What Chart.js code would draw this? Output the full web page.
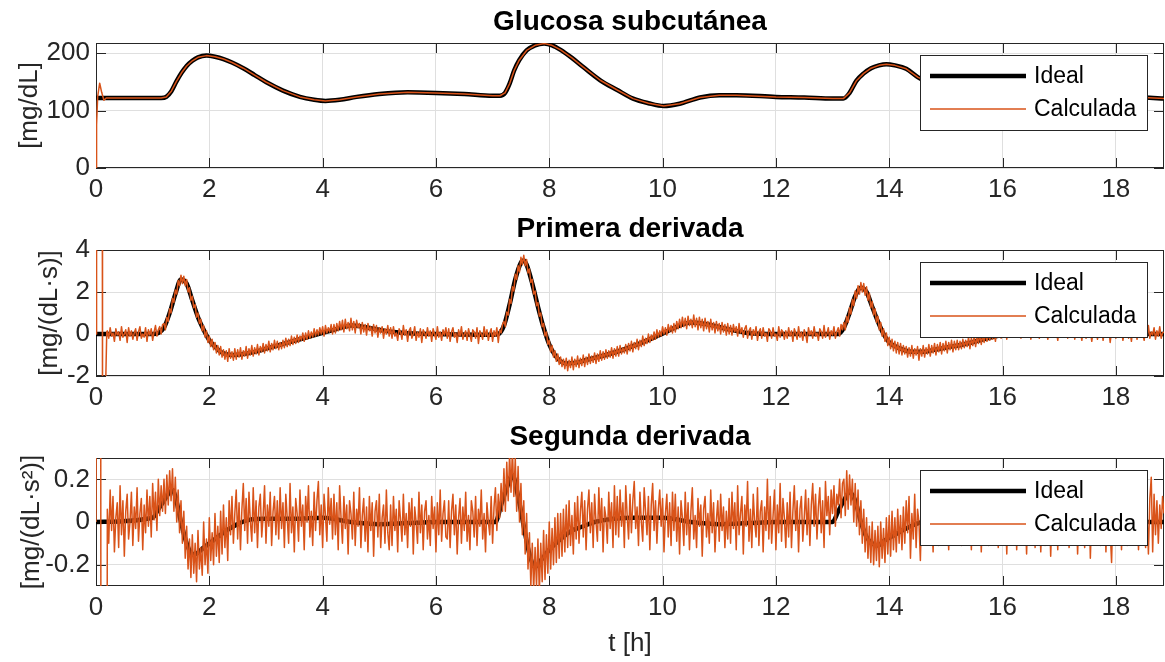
<!DOCTYPE html>
<html>
<head>
<meta charset="utf-8">
<title>Glucosa subcutánea y derivadas</title>
<script src="https://cdn.jsdelivr.net/npm/chart.js@4.4.0/dist/chart.umd.min.js"></script>
<style>
  body { margin: 0; background: #fff; }
  #wrap { position: relative; width: 1165px; height: 662px; overflow: hidden; }
  canvas { position: absolute; left: 0; }
</style>
</head>
<body>
<div id="wrap">
  <canvas id="c1" width="1165" height="210" style="top:0"></canvas>
  <canvas id="c2" width="1165" height="210" style="top:210px"></canvas>
  <canvas id="c3" width="1165" height="242" style="top:420px"></canvas>
</div>
<script>
/* Glucosa subcutánea: ideal vs calculada, con primera y segunda derivada */

// ---- data ----

// axes
const xMax = 18.85;
const xTicks = [0, 2, 4, 6, 8, 10, 12, 14, 16, 18];
const glucTicks = [0, 100, 200];
const d1Ticks = [-2, 0, 2, 4];
const d2Ticks = [-0.2, 0, 0.2];

// glucose, ideal curve (knots)
const glucT = [0, 0.5, 1.0, 1.15, 1.24, 1.33, 1.42, 1.51, 1.6, 1.7,
  1.8, 1.95, 2.1, 2.25, 2.4, 2.6, 2.8, 3.0, 3.3, 3.6,
  3.85, 4.05, 4.3, 4.6, 5.0, 5.5, 6.0, 6.5, 7.0, 7.13,
  7.22, 7.3, 7.38, 7.47, 7.6, 7.75, 7.91, 8.05, 8.2, 8.4,
  8.6, 8.9, 9.2, 9.48, 9.75, 10.02, 10.3, 10.66, 11.0, 11.3,
  12.0, 12.5, 13.0, 13.19, 13.3, 13.42, 13.55, 13.68, 13.82, 13.95,
  14.1, 14.3, 14.51, 14.8, 15.1, 15.4, 15.7, 16.0, 16.5, 17.0,
  17.5, 18.0, 18.5, 18.85];
const glucIdeal = [122, 122, 122, 122, 124, 134, 151, 166, 178, 187,
  193, 196, 194, 190, 184, 174, 162, 150, 135, 124,
  119, 117, 119, 124, 129, 132, 131, 129, 126, 126,
  131, 147, 170, 188, 205, 214, 217, 214, 206, 192,
  176, 153, 136, 121, 113, 108, 112, 123, 127, 127,
  124, 123, 121, 121, 131, 152, 165, 174, 179, 181,
  179, 173, 158, 145, 134, 126, 121, 118, 118, 120,
  122, 123, 123, 121];
// glucose, calculated: start-up transient, then it follows the ideal curve
const glucStartT = [0, 0.01, 0.03, 0.065, 0.1, 0.14, 0.18];
const glucStartV = [0, 75, 125, 148, 132, 118, 122];

// first derivative, ideal (knots)
const d1T = [0, 1.0, 1.1, 1.2, 1.3, 1.4, 1.5, 1.6, 1.7, 1.8, 1.9, 2.0, 2.1, 2.2, 2.4, 2.6, 2.8,
  3.0, 3.2, 3.4, 3.6, 3.8, 4.0, 4.2, 4.4, 4.5, 4.7, 4.9, 5.1, 5.3, 5.6, 6.0, 7.0, 7.1,
  7.2, 7.3, 7.4, 7.5, 7.55, 7.6, 7.7, 7.8, 7.9, 8.0, 8.1, 8.2, 8.3, 8.5, 8.7, 9.0, 9.3,
  9.6, 9.9, 10.1, 10.3, 10.5, 10.7, 10.9, 11.2, 11.5, 12.0, 13.1,
  13.2, 13.3, 13.4, 13.5, 13.6, 13.7, 13.8, 13.9, 14.0, 14.2, 14.4, 14.6, 14.8, 15.0, 15.3,
  15.6, 15.9, 16.2, 16.5, 17.0, 17.5, 18.0, 18.85];
const d1Ideal = [0, 0, 0.05, 0.3, 1.0, 1.9, 2.6, 2.4, 1.6, 0.8, 0.2, -0.3, -0.6, -0.85, -1.0, -0.95, -0.85,
  -0.7, -0.55, -0.4, -0.25, -0.1, 0.05, 0.2, 0.35, 0.4, 0.35, 0.25, 0.15, 0.08, 0.02, 0, -0.03, 0,
  0.4, 1.4, 2.6, 3.4, 3.5, 3.3, 2.4, 1.3, 0.3, -0.5, -1.0, -1.3, -1.4, -1.35, -1.2, -1.0, -0.75,
  -0.45, -0.1, 0.15, 0.4, 0.55, 0.5, 0.4, 0.2, 0.05, 0, 0,
  0.3, 1.0, 1.8, 2.2, 2.0, 1.3, 0.6, 0.0, -0.4, -0.7, -0.85, -0.85, -0.75, -0.65, -0.5,
  -0.3, -0.1, 0.05, 0.1, 0.1, 0.05, 0, 0];

// second derivative, ideal (knots)
const d2T = [0, 1.0, 1.1, 1.2, 1.3, 1.35, 1.4, 1.5, 1.6, 1.7, 1.75, 1.9, 2.1, 2.3, 2.5, 2.7,
  3.0, 3.5, 4.0, 4.5, 5.0, 5.5, 6.0,
  7.05, 7.15, 7.25, 7.35, 7.45, 7.55, 7.65, 7.75, 7.85, 8.0, 8.2, 8.4, 8.6, 8.8,
  9.5, 10.0, 10.5, 11.0, 11.5, 12.0,
  13.0, 13.1, 13.2, 13.3, 13.4, 13.5, 13.6, 13.7, 13.8, 13.9, 14.1, 14.3, 14.6, 15.5, 16.5, 18.85];
const d2Ideal = [0, 0.02, 0.06, 0.1, 0.14, 0.15, 0.12, 0.0, -0.1, -0.15, -0.15, -0.12, -0.08, -0.04, -0.01, 0.01,
  0.015, 0.015, 0.02, 0.0, -0.01, -0.005, 0,
  0, 0.08, 0.16, 0.22, 0.12, -0.02, -0.15, -0.21, -0.18, -0.13, -0.08, -0.04, -0.02, 0,
  0.02, 0.02, 0, -0.01, -0.005, 0,
  0, 0.05, 0.1, 0.14, 0.1, 0.0, -0.07, -0.1, -0.11, -0.09, -0.06, -0.03, 0, 0.01, 0, 0];

// calculated derivatives: start-up transient (runs off scale)
const d1StartT = [0, 0.01, 0.11, 0.115, 0.14, 0.17, 0.19];
const d1StartV = [0, 12, 12, -6, -2.3, -2.5, 0.1];
const d2StartT = [0, 0.02, 0.08, 0.09, 0.19];
const d2StartV = [0, 2, 2, -2, -2];

// calculated derivatives: one sample every 0.025 h from t = 0.2 h (40 per hour)
const calcT0 = 0.2, calcDt = 0.025;
const d1Calc = [
  // 0.2 - 1.175
  0.15, -0.2, 0.3, -0.1, 0.05, -0.35, 0.25, -0.05, 0.1, -0.3,
  0.35, -0.15, 0.0, 0.2, -0.4, 0.3, -0.1, 0.15, -0.25, 0.05,
  0.25, -0.3, 0.1, 0.35, -0.2, 0.0, -0.15, 0.3, -0.35, 0.2,
  -0.05, 0.25, -0.3, 0.1, 0.4, -0.1, 0.2, 0.35, 0.0, 0.45,
  // 1.2 - 2.175
  0.5, 0.2, 0.8, 0.6, 1.2, 1.0, 1.7, 1.5, 2.1, 1.9,
  2.55, 2.3, 2.8, 2.4, 2.75, 2.3, 2.6, 2.0, 2.2, 1.6,
  1.8, 1.25, 1.4, 0.8, 1.0, 0.5, 0.7, 0.15, 0.4, -0.15,
  0.15, -0.4, -0.1, -0.6, -0.25, -0.75, -0.4, -0.9, -0.55, -1.0,
  // 2.2 - 3.175
  -0.6, -1.1, -0.75, -1.2, -0.8, -1.3, -0.7, -1.15, -0.85, -1.25,
  -0.7, -1.2, -0.75, -1.1, -0.65, -1.2, -0.8, -1.05, -0.6, -1.15,
  -0.7, -1.0, -0.55, -1.05, -0.65, -0.95, -0.5, -1.0, -0.6, -0.85,
  -0.45, -0.9, -0.5, -0.8, -0.35, -0.85, -0.45, -0.75, -0.3, -0.7,
  // 3.2 - 4.175
  -0.35, -0.75, -0.4, -0.7, -0.3, -0.65, -0.2, -0.6, -0.25, -0.55,
  -0.1, -0.5, -0.15, -0.45, -0.05, -0.4, -0.1, -0.3, 0.05, -0.35,
  0.05, -0.25, 0.15, -0.2, 0.1, -0.15, 0.25, -0.1, 0.2, -0.05,
  0.3, 0.0, 0.35, -0.1, 0.4, 0.05, 0.3, 0.1, 0.45, 0.0,
  // 4.2 - 5.175
  0.45, 0.05, 0.5, 0.15, 0.6, 0.2, 0.65, 0.1, 0.7, 0.25,
  0.55, 0.15, 0.75, 0.2, 0.6, 0.05, 0.65, 0.3, 0.5, 0.0,
  0.55, 0.1, 0.45, -0.05, 0.5, 0.15, 0.35, -0.1, 0.45, 0.05,
  0.4, -0.15, 0.3, 0.05, 0.35, -0.2, 0.25, 0.0, 0.4, -0.1,
  // 5.2 - 6.175
  0.3, -0.2, 0.35, -0.1, 0.05, -0.3, 0.25, 0.1, -0.25, 0.4,
  -0.05, 0.2, -0.35, 0.15, 0.3, -0.2, 0.0, 0.35, -0.3, 0.1,
  -0.15, 0.25, -0.4, 0.2, 0.05, -0.2, 0.3, -0.1, 0.15, -0.35,
  0.25, 0.0, -0.25, 0.35, -0.15, 0.1, -0.3, 0.2, -0.05, 0.3,
  // 6.2 - 7.175
  -0.2, 0.25, -0.35, 0.1, 0.3, -0.15, 0.05, -0.4, 0.2, -0.1,
  0.35, -0.25, 0.0, 0.15, -0.3, 0.25, -0.05, -0.35, 0.2, 0.1,
  -0.2, 0.3, -0.45, 0.15, 0.0, -0.25, 0.35, -0.1, 0.2, -0.3,
  0.05, 0.25, -0.35, 0.15, -0.1, 0.3, -0.4, 0.2, 0.05, 0.45,
  // 7.2 - 8.175
  0.6, 0.35, 1.05, 0.9, 1.65, 1.45, 2.25, 2.05, 2.85, 2.6,
  3.25, 2.95, 3.65, 3.3, 3.75, 3.25, 3.55, 2.9, 3.1, 2.45,
  2.6, 1.9, 2.05, 1.35, 1.5, 0.85, 1.0, 0.35, 0.5, -0.1,
  0.1, -0.5, -0.3, -0.85, -0.55, -1.1, -0.8, -1.3, -0.95, -1.45,
  // 8.2 - 9.175
  -1.1, -1.55, -1.2, -1.65, -1.15, -1.75, -1.25, -1.6, -1.1, -1.7,
  -1.2, -1.55, -1.05, -1.6, -1.15, -1.5, -1.0, -1.55, -1.1, -1.45,
  -0.95, -1.4, -1.05, -1.35, -0.9, -1.4, -0.95, -1.3, -0.8, -1.25,
  -0.85, -1.2, -0.75, -1.15, -0.8, -1.1, -0.65, -1.15, -0.7, -1.05,
  // 9.2 - 10.175
  -0.6, -1.05, -0.55, -0.95, -0.65, -0.9, -0.5, -0.95, -0.45, -0.8,
  -0.35, -0.85, -0.4, -0.7, -0.25, -0.75, -0.3, -0.6, -0.1, -0.55,
  -0.2, -0.45, 0.0, -0.4, -0.05, -0.3, 0.1, -0.25, 0.2, -0.15,
  0.15, -0.1, 0.35, 0.0, 0.3, -0.05, 0.45, 0.1, 0.4, 0.05,
  // 10.2 - 11.175
  0.5, 0.1, 0.6, 0.25, 0.7, 0.3, 0.8, 0.35, 0.75, 0.25,
  0.85, 0.4, 0.7, 0.3, 0.9, 0.35, 0.75, 0.2, 0.8, 0.3,
  0.7, 0.15, 0.75, 0.25, 0.6, 0.1, 0.7, 0.2, 0.55, 0.05,
  0.6, 0.15, 0.5, 0.0, 0.55, 0.1, 0.45, -0.05, 0.5, 0.0,
  // 11.2 - 12.175
  0.4, -0.05, 0.45, 0.1, 0.35, -0.1, 0.5, 0.05, 0.3, -0.15,
  0.25, 0.4, -0.2, 0.15, 0.3, -0.25, 0.2, -0.05, 0.35, -0.3,
  0.1, 0.25, -0.2, 0.3, -0.1, 0.05, -0.35, 0.25, 0.15, -0.2,
  0.3, -0.1, 0.0, -0.3, 0.35, -0.15, 0.2, 0.1, -0.25, 0.15,
  // 12.2 - 13.175
  -0.2, 0.3, -0.1, 0.15, -0.35, 0.25, 0.05, -0.25, 0.35, -0.15,
  0.1, -0.3, 0.2, 0.0, -0.4, 0.3, -0.05, 0.15, -0.2, 0.35,
  -0.1, 0.05, -0.3, 0.25, 0.1, -0.2, 0.4, -0.15, 0.0, 0.3,
  -0.25, 0.15, -0.05, 0.35, -0.2, 0.1, 0.3, -0.1, 0.45, 0.2,
  // 13.2 - 14.175
  0.55, 0.2, 0.85, 0.55, 1.25, 0.95, 1.65, 1.35, 2.05, 1.7,
  2.3, 1.9, 2.45, 2.0, 2.4, 1.85, 2.25, 1.6, 1.95, 1.25,
  1.55, 0.9, 1.2, 0.55, 0.85, 0.2, 0.55, -0.1, 0.25, -0.35,
  0.05, -0.55, -0.15, -0.7, -0.25, -0.8, -0.35, -0.9, -0.4, -0.95,
  // 14.2 - 15.175
  -0.45, -1.0, -0.55, -0.95, -0.6, -1.1, -0.65, -1.05, -0.55, -1.15,
  -0.7, -1.0, -0.6, -1.25, -0.7, -1.05, -0.55, -1.1, -0.65, -0.95,
  -0.5, -1.05, -0.55, -0.9, -0.45, -1.0, -0.5, -0.85, -0.4, -0.95,
  -0.45, -0.8, -0.35, -0.9, -0.4, -0.75, -0.3, -0.85, -0.35, -0.75,
  // 15.2 - 16.175
  -0.3, -0.75, -0.35, -0.7, -0.25, -0.65, -0.3, -0.6, -0.15, -0.7,
  -0.2, -0.55, -0.1, -0.6, -0.15, -0.45, 0.0, -0.5, -0.05, -0.4,
  0.1, -0.35, 0.05, -0.3, 0.15, -0.25, 0.1, -0.35, 0.2, -0.15,
  0.25, -0.2, 0.15, -0.1, 0.3, -0.25, 0.2, -0.05, 0.3, -0.15,
  // 16.2 - 17.175
  0.35, -0.15, 0.3, 0.05, 0.4, -0.2, 0.25, -0.05, 0.45, -0.1,
  0.2, 0.35, -0.25, 0.15, 0.3, -0.1, 0.4, 0.0, -0.2, 0.3,
  0.1, -0.15, 0.35, 0.05, -0.25, 0.25, 0.15, -0.1, 0.4, -0.05,
  0.2, -0.3, 0.3, 0.1, -0.15, 0.35, 0.0, 0.25, -0.2, 0.15,
  // 17.2 - 18.175
  0.3, -0.1, 0.25, -0.25, 0.15, 0.35, -0.15, 0.1, -0.3, 0.25,
  0.05, -0.2, 0.35, -0.1, 0.2, -0.35, 0.15, 0.0, 0.3, -0.25,
  0.1, -0.05, 0.25, -0.3, 0.2, 0.05, -0.15, 0.3, -0.4, 0.15,
  -0.1, 0.25, -0.2, 0.05, 0.35, -0.15, 0.2, -0.3, 0.1, 0.0,
  // 18.2 - 18.85
  0.25, -0.2, 0.15, -0.35, 0.3, -0.05, 0.1, -0.25, 0.35, -0.1,
  0.2, 0.0, -0.3, 0.25, -0.15, 0.4, -0.2, 0.1, -0.05, 0.3,
  -0.25, 0.15, -0.1, 0.35, -0.2, 0.05, 0.1
];
const d2Calc = [
  // 0.2 - 1.175
  0.06, -0.1, 0.15, -0.04, 0.12, -0.14, 0.02, 0.09, -0.12, 0.17,
  -0.06, 0.1, -0.16, 0.05, 0.13, -0.08, 0.0, 0.14, -0.11, 0.07,
  -0.03, 0.16, -0.09, 0.04, 0.11, -0.13, 0.08, -0.05, 0.15, -0.02,
  0.12, -0.07, 0.18, 0.01, 0.14, -0.04, 0.2, 0.03, 0.17, 0.05,
  // 1.2 - 2.175
  0.2, 0.04, 0.22, 0.08, 0.24, 0.1, 0.25, 0.05, 0.21, 0.0,
  0.15, -0.05, 0.1, -0.1, 0.05, -0.17, -0.02, -0.22, -0.08, -0.26,
  -0.06, -0.24, -0.1, -0.28, -0.04, -0.22, -0.12, -0.25, 0.0, -0.2,
  -0.08, -0.24, 0.02, -0.18, -0.05, -0.2, 0.04, -0.16, -0.02, -0.19,
  // 2.2 - 3.175
  0.05, -0.15, 0.08, -0.12, 0.02, -0.18, 0.1, -0.06, 0.12, -0.1,
  0.04, 0.15, -0.08, 0.09, -0.13, 0.06, 0.18, -0.04, 0.11, -0.1,
  0.14, 0.0, -0.09, 0.16, -0.05, 0.1, -0.12, 0.07, 0.13, -0.07,
  0.03, 0.17, -0.1, 0.08, -0.02, 0.14, -0.11, 0.05, 0.12, -0.06,
  // 3.2 - 4.175
  0.1, -0.08, 0.16, -0.03, 0.09, -0.12, 0.13, 0.02, -0.1, 0.18,
  -0.05, 0.07, -0.14, 0.11, 0.04, -0.09, 0.15, -0.02, 0.08, -0.13,
  0.12, 0.0, 0.17, -0.07, 0.05, -0.11, 0.14, -0.04, 0.1, 0.19,
  -0.06, 0.08, -0.12, 0.13, 0.03, -0.09, 0.16, -0.01, 0.11, -0.08,
  // 4.2 - 5.175
  0.13, -0.06, 0.09, -0.13, 0.17, 0.02, -0.1, 0.12, -0.03, 0.08,
  -0.15, 0.1, 0.04, -0.08, 0.14, -0.11, 0.06, -0.02, 0.16, -0.12,
  0.03, 0.11, -0.09, 0.07, -0.14, 0.12, -0.04, 0.09, -0.16, 0.05,
  0.1, -0.07, 0.13, -0.12, 0.02, 0.08, -0.1, 0.15, -0.05, -0.13,
  // 5.2 - 6.175
  0.08, -0.11, 0.12, -0.04, 0.06, -0.14, 0.1, 0.01, -0.09, 0.13,
  -0.06, 0.04, -0.12, 0.09, -0.02, 0.11, -0.15, 0.07, 0.0, -0.1,
  0.14, -0.05, 0.08, -0.13, 0.05, 0.1, -0.08, 0.03, -0.11, 0.12,
  -0.03, 0.07, -0.14, 0.09, -0.06, 0.15, -0.09, 0.04, 0.1, -0.07,
  // 6.2 - 7.175
  -0.08, 0.1, -0.12, 0.05, 0.13, -0.06, 0.08, -0.15, 0.02, 0.11,
  -0.1, 0.07, -0.04, 0.14, -0.09, 0.03, -0.13, 0.1, 0.05, -0.07,
  0.12, -0.11, 0.06, -0.02, 0.15, -0.08, 0.04, -0.14, 0.09, 0.0,
  -0.06, 0.12, -0.1, 0.07, 0.16, -0.04, 0.13, 0.02, 0.18, 0.05,
  // 7.2 - 8.175
  0.25, 0.05, 0.28, 0.1, 0.32, 0.14, 0.34, 0.12, 0.3, 0.05,
  0.26, 0.0, 0.18, -0.06, 0.1, -0.15, 0.04, -0.22, -0.05, -0.3,
  -0.1, -0.32, -0.12, -0.3, -0.08, -0.33, -0.1, -0.28, -0.04, -0.27,
  -0.06, -0.24, 0.0, -0.22, -0.03, -0.2, 0.02, -0.19, 0.04, -0.17,
  // 8.2 - 9.175
  0.04, -0.16, 0.06, -0.14, 0.08, -0.12, 0.1, -0.11, 0.03, -0.15,
  0.09, -0.08, 0.12, -0.1, 0.05, 0.14, -0.07, 0.1, -0.13, 0.06,
  0.15, -0.05, 0.09, -0.12, 0.13, 0.0, -0.09, 0.16, -0.04, 0.11,
  -0.14, 0.07, 0.02, -0.1, 0.14, -0.03, 0.09, -0.12, 0.17, -0.06,
  // 9.2 - 10.175
  0.12, -0.07, 0.15, -0.02, 0.09, -0.12, 0.17, 0.03, -0.08, 0.13,
  -0.05, 0.1, 0.19, -0.03, 0.07, -0.11, 0.14, 0.0, -0.09, 0.16,
  0.05, -0.06, 0.12, -0.13, 0.08, 0.18, -0.04, 0.1, -0.1, 0.06,
  0.15, -0.02, 0.11, -0.14, 0.04, 0.13, -0.07, 0.09, -0.11, 0.14,
  // 10.2 - 11.175
  -0.04, 0.13, -0.09, 0.07, -0.15, 0.1, 0.02, -0.11, 0.14, -0.06,
  0.09, -0.13, 0.05, 0.16, -0.08, 0.03, -0.12, 0.11, -0.02, 0.08,
  -0.16, 0.06, 0.12, -0.07, 0.04, -0.1, 0.15, -0.05, 0.09, -0.14,
  0.01, 0.1, -0.09, 0.13, -0.04, 0.07, -0.12, 0.05, -0.08, 0.11,
  // 11.2 - 12.175
  -0.1, 0.14, -0.03, 0.09, -0.13, 0.17, -0.06, 0.04, 0.12, -0.15,
  0.08, -0.02, 0.19, -0.09, 0.06, -0.12, 0.13, 0.0, -0.07, 0.16,
  -0.11, 0.05, 0.1, -0.14, 0.07, -0.04, 0.2, -0.08, 0.12, -0.1,
  0.03, 0.15, -0.13, 0.08, -0.05, 0.18, -0.09, 0.11, 0.02, -0.12,
  // 12.2 - 13.175
  0.09, -0.07, 0.14, -0.12, 0.05, 0.17, -0.04, 0.1, -0.14, 0.06,
  0.12, -0.09, 0.02, 0.15, -0.06, 0.11, -0.11, 0.08, 0.18, -0.02,
  0.13, -0.08, 0.07, 0.16, -0.05, 0.1, -0.12, 0.19, 0.03, 0.12,
  -0.06, 0.15, 0.04, 0.17, -0.02, 0.13, 0.08, 0.2, 0.02, 0.18,
  // 13.2 - 14.175
  0.2, 0.03, 0.24, 0.06, 0.22, 0.08, 0.2, 0.0, 0.18, -0.02,
  0.15, -0.06, 0.1, -0.1, 0.06, -0.14, 0.02, -0.17, -0.02, -0.19,
  0.0, -0.2, -0.04, -0.18, -0.02, -0.21, 0.0, -0.17, -0.03, -0.19,
  0.02, -0.15, 0.03, -0.16, 0.05, -0.13, 0.02, -0.14, 0.06, -0.1,
  // 14.2 - 15.175
  0.03, -0.13, 0.07, -0.1, 0.1, -0.05, 0.12, -0.17, 0.04, -0.08,
  0.13, -0.12, 0.06, 0.0, -0.18, 0.09, -0.04, 0.14, -0.1, 0.05,
  0.11, -0.07, 0.02, -0.14, 0.16, -0.03, 0.08, -0.11, 0.12, -0.06,
  0.04, 0.15, -0.09, 0.07, -0.13, 0.1, -0.02, 0.13, -0.1, 0.06,
  // 15.2 - 16.175
  0.12, -0.06, 0.15, -0.11, 0.03, 0.09, -0.08, 0.14, -0.03, 0.07,
  -0.13, 0.11, 0.0, -0.09, 0.16, -0.05, 0.1, -0.14, 0.06, 0.13,
  -0.07, 0.04, -0.11, 0.12, -0.02, 0.08, 0.17, -0.09, 0.05, -0.12,
  0.1, -0.04, 0.14, -0.1, 0.07, -0.15, 0.11, 0.01, -0.08, 0.13,
  // 16.2 - 17.175
  -0.09, 0.08, -0.13, 0.11, 0.02, -0.07, 0.14, -0.1, 0.05, -0.15,
  0.09, -0.02, 0.12, -0.08, 0.06, -0.12, 0.15, -0.04, 0.1, -0.14,
  0.03, 0.07, -0.11, 0.13, -0.06, 0.09, -0.16, 0.04, 0.11, -0.09,
  0.06, -0.13, 0.14, -0.03, 0.08, -0.1, 0.12, -0.07, 0.02, -0.12,
  // 17.2 - 18.175
  0.08, -0.1, 0.13, -0.05, 0.09, -0.15, 0.04, 0.11, -0.08, 0.06,
  -0.12, 0.1, -0.03, 0.14, -0.17, 0.05, -0.09, 0.12, -0.06, 0.08,
  0.15, -0.11, 0.03, -0.07, 0.1, -0.14, 0.07, 0.12, -0.04, -0.19,
  0.09, -0.06, 0.13, -0.1, 0.02, 0.11, -0.13, 0.06, -0.08, 0.1,
  // 18.2 - 18.85
  -0.11, 0.07, -0.04, 0.14, -0.09, 0.1, -0.02, 0.12, -0.13, 0.06,
  0.16, -0.07, 0.09, -0.12, 0.05, -0.15, 0.11, 0.21, -0.14, 0.13,
  -0.06, 0.1, -0.1, 0.08, -0.03, 0.12, 0.04
];

// ---- helpers ----
const FONT = "'Liberation Sans', Arial, Helvetica, sans-serif";
const AXIS_COLOR = '#262626';
const GRID_COLOR = '#dfdfdf';
const ORANGE = '#D95319';

function pts(ts, vs) {
  return ts.map((t, i) => ({ x: t, y: vs[i] }));
}
function sampled(vs) {
  return vs.map((v, i) => ({ x: +(calcT0 + i * calcDt).toFixed(3), y: v }));
}
function fixTicks(list) {
  return s => { s.ticks = list.map(v => ({ value: v })); };
}

// box, inward ticks, title and legend, MATLAB style
const axesDeco = {
  id: 'axesDeco',
  beforeDatasetsDraw(chart) {
    const { ctx, chartArea: a, scales } = chart;
    const tl = 10;
    ctx.save();
    ctx.strokeStyle = AXIS_COLOR;
    ctx.lineWidth = 1;
    ctx.beginPath();
    scales.x.ticks.forEach(t => {
      const px = Math.round(scales.x.getPixelForValue(t.value)) + 0.5;
      ctx.moveTo(px, a.bottom); ctx.lineTo(px, a.bottom - tl);
      ctx.moveTo(px, a.top); ctx.lineTo(px, a.top + tl);
    });
    scales.y.ticks.forEach(t => {
      const py = Math.round(scales.y.getPixelForValue(t.value)) + 0.5;
      ctx.moveTo(a.left, py); ctx.lineTo(a.left + tl, py);
      ctx.moveTo(a.right, py); ctx.lineTo(a.right - tl, py);
    });
    ctx.stroke();
    ctx.strokeRect(a.left + 0.5, a.top + 0.5, a.right - a.left - 1, a.bottom - a.top - 1);
    ctx.restore();
  },
  afterDraw(chart, args, opts) {
    const { ctx, chartArea: a } = chart;
    ctx.save();
    // title
    ctx.fillStyle = '#000';
    ctx.font = 'bold 28px ' + FONT;
    ctx.textAlign = 'center';
    ctx.textBaseline = 'alphabetic';
    ctx.fillText(opts.title, (a.left + a.right) / 2, a.top - 13);

    // legend
    const bw = 227, bh = 75;
    const bx = a.right - 17 - bw, by = a.top + 12;
    ctx.fillStyle = '#fff';
    ctx.fillRect(bx, by, bw, bh);
    ctx.strokeStyle = AXIS_COLOR;
    ctx.lineWidth = 1;
    ctx.strokeRect(bx + 0.5, by + 0.5, bw, bh);
    ctx.font = '23px ' + FONT;
    ctx.textAlign = 'left';
    ctx.textBaseline = 'middle';
    const rows = [21, 54];
    chart.data.datasets.forEach((ds, i) => {
      const y = by + rows[i];
      ctx.strokeStyle = ds.borderColor;
      ctx.lineWidth = ds.borderWidth;
      ctx.beginPath();
      ctx.moveTo(bx + 10, y);
      ctx.lineTo(bx + 106, y);
      ctx.stroke();
      ctx.fillStyle = '#000';
      ctx.fillText(ds.label, bx + 114, y + 1);
    });
    ctx.restore();
  }
};

function makeChart(id, cfg) {
  const tickFont = { family: FONT, size: 26 };
  const xScale = {
    type: 'linear',
    min: 0,
    max: xMax,
    border: { display: false },
    grid: { color: GRID_COLOR, drawTicks: false },
    ticks: { color: AXIS_COLOR, font: tickFont, padding: 6, maxRotation: 0, autoSkip: false },
    afterBuildTicks: fixTicks(xTicks),
    afterFit: s => { s.height = cfg.xHeight; }
  };
  if (cfg.xTitle) {
    xScale.title = { display: true, text: cfg.xTitle, color: AXIS_COLOR, font: tickFont, padding: { top: 0, bottom: 2.4 } };
  }
  return new Chart(document.getElementById(id), {
    type: 'line',
    data: {
      datasets: [
        {
          label: 'Ideal',
          data: cfg.ideal,
          borderColor: '#000',
          borderWidth: 4.5,
          pointRadius: 0,
          cubicInterpolationMode: 'monotone',
          order: 2
        },
        {
          label: 'Calculada',
          data: cfg.calc,
          borderColor: ORANGE,
          borderWidth: 1.5,
          borderJoinStyle: 'round',
          pointRadius: 0,
          tension: 0,
          clip: 0,
          order: 1
        }
      ]
    },
    options: {
      responsive: false,
      animation: false,
      devicePixelRatio: 1,
      events: [],
      parsing: false,
      layout: { padding: { top: cfg.top, right: 1, bottom: 0, left: 0 } },
      scales: {
        x: xScale,
        y: {
          min: cfg.yMin,
          max: cfg.yMax,
          border: { display: false },
          grid: { color: GRID_COLOR, drawTicks: false },
          ticks: { color: AXIS_COLOR, font: tickFont, padding: 6, autoSkip: false },
          afterBuildTicks: fixTicks(cfg.yTicks),
          title: { display: true, text: cfg.yTitle, color: AXIS_COLOR, font: tickFont, padding: { top: cfg.yTitlePad, bottom: 0 } },
          afterFit: s => { s.width = 96; }
        }
      },
      plugins: {
        legend: { display: false },
        tooltip: { enabled: false },
        axesDeco: { title: cfg.title }
      }
    },
    plugins: [axesDeco]
  });
}

function init() {
  const lastStart = glucStartT[glucStartT.length - 1];
  const glucCalc = pts(glucStartT, glucStartV)
    .concat(pts(glucT, glucIdeal).filter(p => p.x > lastStart));

  makeChart('c1', {
    title: 'Glucosa subcutánea',
    ideal: pts(glucT, glucIdeal),
    calc: glucCalc,
    yMin: 0, yMax: 218, yTicks: glucTicks,
    yTitle: '[mg/dL]', yTitlePad: 14.4,
    top: 43, xHeight: 42
  });

  makeChart('c2', {
    title: 'Primera derivada',
    ideal: pts(d1T, d1Ideal),
    calc: pts(d1StartT, d1StartV).concat(sampled(d1Calc)),
    yMin: -2, yMax: 4, yTicks: d1Ticks,
    yTitle: '[mg/(dL·s)]', yTitlePad: 34.4,
    top: 40, xHeight: 44
  });

  makeChart('c3', {
    title: 'Segunda derivada',
    ideal: pts(d2T, d2Ideal),
    calc: pts(d2StartT, d2StartV).concat(sampled(d2Calc)),
    yMin: -0.3, yMax: 0.3, yTicks: d2Ticks,
    yTitle: '[mg/(dL·s²)]', yTitlePad: 15.8,
    top: 38, xHeight: 76, xTitle: 't [h]'
  });
}

document.addEventListener('DOMContentLoaded', init, false);
</script>
</body>
</html>
